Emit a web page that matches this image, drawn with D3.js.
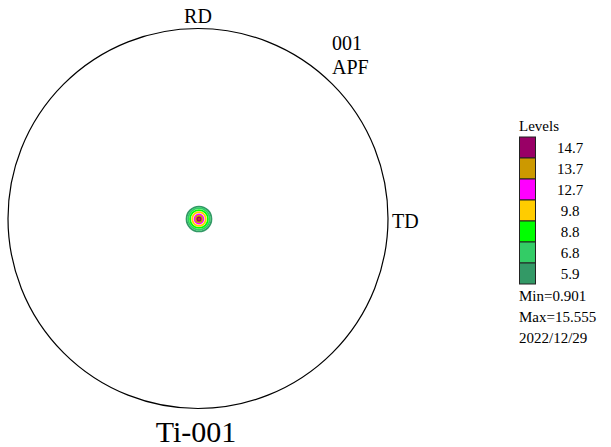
<!DOCTYPE html>
<html><head><meta charset="utf-8">
<script src="https://cdn.jsdelivr.net/npm/d3@7"></script>
<style>body{margin:0;background:#fff;} svg{display:block;} text{font-family:"Liberation Serif","DejaVu Serif",serif;}</style>
</head><body>
<script>
const levels = [14.7, 13.7, 12.7, 9.8, 8.8, 6.8, 5.9];
const levelColors = ["#990066", "#cc9900", "#ff00ff", "#ffcc00", "#00ff00", "#33cc66", "#339966"];
// tilt angle (deg) of each contour ring around the central pole
const levelPsi = [1.0, 1.8, 2.7, 4.1, 5.4, 6.5, 7.5];
const stats = ["Min=0.901", "Max=15.555", "2022/12/29"];
const title = "Ti-001";

const W = 611, H = 447;
const svg = d3.select("body").append("svg").attr("width", W).attr("height", H);
const cx = 198, cy = 218.5, R = 190;
// stereographic projection: r = tan(psi/2), normalised to 1 at psi=90
const rScale = d3.scaleLinear().domain([0, 1]).range([0, R]);
const proj = psi => rScale(Math.tan(psi * Math.PI / 360));

svg.append("circle").attr("cx", cx).attr("cy", cy).attr("r", R)
  .attr("fill", "none").attr("stroke", "#000").attr("stroke-width", 1.2);

// contours (outer first)
const pole = {x: cx + 1, y: cy + 0.5};
const rings = levels.map((v, i) => ({v, c: levelColors[i], r: proj(levelPsi[i])})).reverse();
svg.append("g").selectAll("circle").data(rings).join("circle")
  .attr("cx", pole.x).attr("cy", pole.y).attr("r", d => d.r)
  .attr("fill", "none").attr("stroke", d => d.c).attr("stroke-width", 1.8);
svg.append("circle").attr("cx", pole.x).attr("cy", pole.y).attr("r", 1.3).attr("fill", "#cc3333");

const txt = (x, y, s, size, anchor = "start") => svg.append("text").attr("x", x).attr("y", y)
  .attr("font-size", size).attr("text-anchor", anchor).attr("fill", "#000").text(s);
txt(198, 23, "RD", 20, "middle");
txt(332, 50, "001", 20);
txt(332, 74, "APF", 20);
txt(392, 228, "TD", 20);
txt(196, 442, title, 30, "middle");

// legend
txt(519, 131, "Levels", 15);
const boxH = 21, by = 137;
const lg = svg.append("g");
lg.selectAll("rect").data(levels).join("rect")
  .attr("x", 519.5).attr("y", (d, i) => by + i * boxH).attr("width", 16).attr("height", boxH)
  .attr("fill", (d, i) => levelColors[i]).attr("stroke", "#222").attr("stroke-width", 1);
lg.selectAll("text").data(levels).join("text")
  .attr("x", 570).attr("y", (d, i) => by + i * boxH + 16).attr("text-anchor", "middle")
  .attr("font-size", 15).text(d => d.toFixed(1));
stats.forEach((s, i) => txt(519, 301 + i * 21, s, 15));
</script>
</body></html>
